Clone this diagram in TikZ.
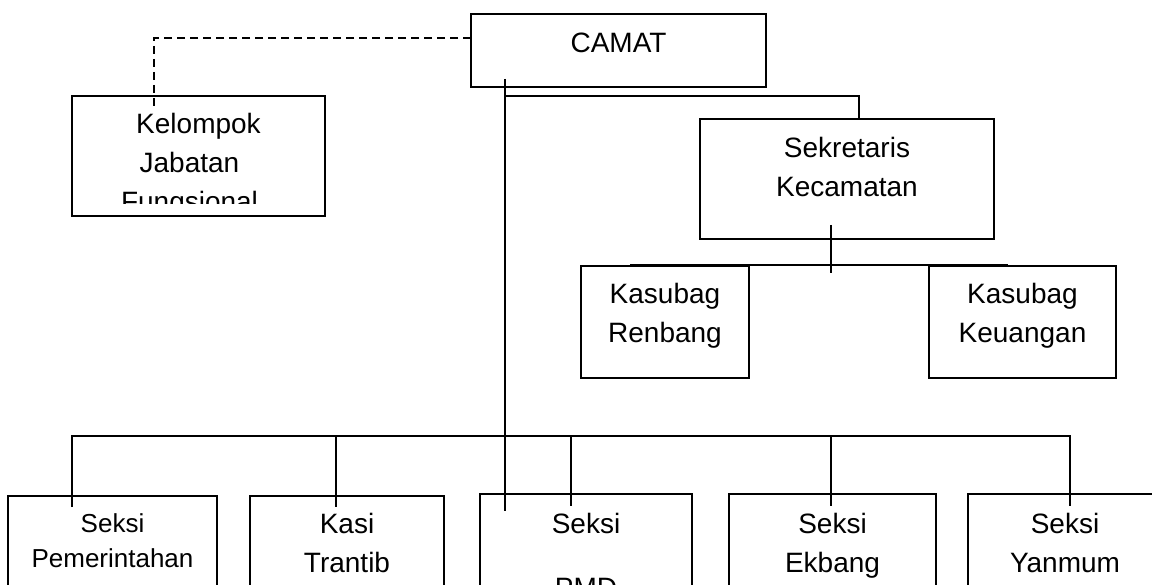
\documentclass[tikz,border=0pt]{standalone}
\usepackage{fontspec}
\setmainfont{Liberation Sans}
\usetikzlibrary{calc}
\newcommand\mltext[2]{\parbox[t]{#1}{\centering #2}}
\begin{document}
\begin{tikzpicture}[x=1pt,y=-1pt,
  box/.style={draw,rectangle,anchor=north west,inner sep=0pt,outer sep=0pt,line width=1.4pt},
  lbl/.style={anchor=base,inner sep=0pt,font=\fontsize{28}{39}\selectfont},
  slbl/.style={anchor=base,inner sep=0pt,font=\fontsize{26}{35}\selectfont},
  conn/.style={line width=1.4pt},
  dashconn/.style={line width=1.4pt,dash pattern=on 8pt off 5pt}]
\useasboundingbox (0,0) rectangle (1152,585);

% boxes
\node[box,minimum width=295pt,minimum height=73pt] (camat) at (471,14) {};
\node[box,minimum width=253pt,minimum height=120pt] (kel) at (72,96) {};
\node[box,minimum width=294pt,minimum height=120pt] (sek) at (700,119) {};
\node[box,minimum width=168pt,minimum height=112pt] (ren) at (581,266) {};
\node[box,minimum width=187pt,minimum height=112pt] (keu) at (929,266) {};
\node[box,minimum width=209pt,minimum height=130pt] (pem) at (8,496) {};
\node[box,minimum width=194pt,minimum height=130pt] (tra) at (250,496) {};
\node[box,minimum width=212pt,minimum height=130pt] (pmd) at (480,494) {};
\node[box,minimum width=207pt,minimum height=130pt] (ekb) at (729,494) {};
\node[box,minimum width=194pt,minimum height=130pt] (yan) at (968,494) {};

% texts
\node[lbl] (camat-t) at (618.5,53) {\mltext{280pt}{CAMAT}};
\begin{scope}
  \clip (72,96) rectangle (325,204);
  \node[lbl] (kel-t) at (198.5,134) {\mltext{240pt}{Kelompok\\Jabatan\kern18pt\\Fungsional\kern18pt}};
\end{scope}
\node[lbl] (sek-t) at (847,158) {\mltext{280pt}{Sekretaris\\Kecamatan}};
\node[lbl] (ren-t) at (665,304) {\mltext{160pt}{Kasubag\\Renbang}};
\node[lbl] (keu-t) at (1022.5,304) {\mltext{180pt}{Kasubag\\Keuangan}};
\node[slbl] (pem-t) at (112.5,532) {\mltext{200pt}{Seksi\\Pemerintahan}};
\node[lbl] (tra-t) at (347,533) {\mltext{190pt}{Kasi\\Trantib}};
\node[lbl] (pmd-t) at (586,533) {\mltext{200pt}{Seksi\\[25pt]PMD}};
\node[lbl] (ekb-t) at (832.5,533) {\mltext{200pt}{Seksi\\Ekbang}};
\node[lbl] (yan-t) at (1065,533) {\mltext{190pt}{Seksi\\Yanmum}};

% dashed link to Kelompok Jabatan Fungsional
\coordinate (dashA) at ($(camat.north west)+(0,24)$);
\coordinate (dashB) at ($(kel.north west)+(82,13)$);
\draw[dashconn] (dashA) -| (dashB);

% main vertical from CAMAT
\coordinate (vtop) at ($(camat.south west)+(34,-8)$);
\coordinate (vbot) at ($(pmd.north west)+(25,17)$);
\draw[conn] (vtop) -- (vbot);

% CAMAT to Sekretaris
\coordinate (sekin) at ($(camat.south west)+(34,9)$);
\draw[conn] (sekin) -| ($(sek.north)+(12,0)$);

% Sekretaris to Kasubag
\coordinate (sekA) at ($(sek.south)+(-16,-14)$);
\coordinate (sekB) at ($(sek.south)+(-16,34)$);
\draw[conn] (sekA) -- (sekB);
\coordinate (kbL) at ($(ren.north west)+(49,-1)$);
\coordinate (kbR) at ($(keu.north west)+(79,-1)$);
\draw[conn] (kbL) -- (kbR);

% bottom bus
\coordinate (bus) at (0,436);
\coordinate (pem-in) at ($(pem.north west)+(64,11)$);
\coordinate (tra-in) at ($(tra.north west)+(86,11)$);
\coordinate (pmd-in) at ($(pmd.north west)+(91,12)$);
\coordinate (ekb-in) at ($(ekb.north west)+(102,12)$);
\coordinate (yan-in) at ($(yan.north west)+(102,12)$);
\draw[conn] (pem-in) -- (pem-in |- bus) -- (yan-in |- bus) -- (yan-in);
\draw[conn] (tra-in |- bus) -- (tra-in);
\draw[conn] (pmd-in |- bus) -- (pmd-in);
\draw[conn] (ekb-in |- bus) -- (ekb-in);
\end{tikzpicture}
\end{document}
